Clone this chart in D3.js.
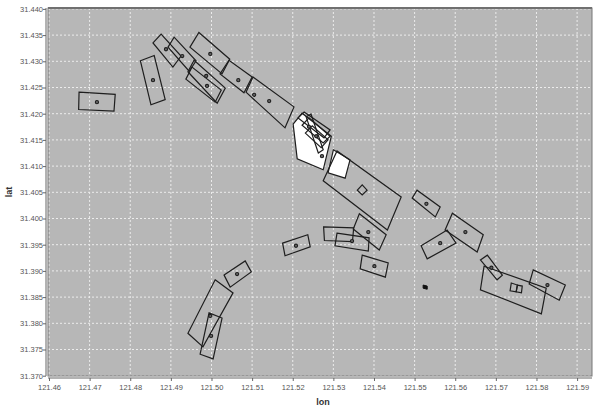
<!DOCTYPE html>
<meta charset="utf-8">
<script src="https://d3js.org/d3.v7.min.js"></script>
<style type="text/css">

body { margin: 0; background: #fff; }

.axis text {
    font-family: "Liberation Sans", Arial, sans-serif;
    font-size: 7.5px;
    fill: #555;
}
.axis line, .axis path {
    stroke: #666;
}
.grid line {
    stroke: #ececec;
    stroke-width: 1px;
    stroke-dasharray: 2px 2px;
}
.shape {
    fill: none;
    stroke: #1e1e1e;
    stroke-width: 1.2px;
}
.whiteShape {
    fill: #fff;
    stroke: #1e1e1e;
    stroke-width: 1.2px;
}
.dot {
    fill: #666;
    stroke: #1e1e1e;
    stroke-width: 1.1px;
}
.axisTitle {
    font-family: "Liberation Sans", Arial, sans-serif;
    font-size: 9px;
    font-weight: bold;
    fill: #333;
}

</style>
<body>
<div id="chart"></div>
</body>
<script>

var lonTicks = [121.46, 121.47, 121.48, 121.49, 121.50, 121.51, 121.52, 121.53, 121.54, 121.55, 121.56, 121.57, 121.58, 121.59];
var latTicks = [31.370, 31.375, 31.380, 31.385, 31.390, 31.395, 31.400, 31.405, 31.410, 31.415, 31.420, 31.425, 31.430, 31.435, 31.440];

// white filled footprints (drawn under the outlines)
var whiteShapes = [
    [[121.5201,31.4180],[121.5223,31.4201],[121.5295,31.4157],[121.5275,31.4093],[121.5211,31.4114]],
    [[121.5300,31.4131],[121.5341,31.4112],[121.5329,31.4077],[121.5287,31.4087]]
];

// outlined footprints, corners as [lon, lat]
var outlineShapes = [
    [[121.4674,31.4241],[121.4763,31.4237],[121.4760,31.4205],[121.4673,31.4208]],
    [[121.4825,31.4301],[121.4859,31.4311],[121.4886,31.4227],[121.4851,31.4217]],
    [[121.4856,31.4335],[121.4876,31.4352],[121.4925,31.4310],[121.4905,31.4289]],
    [[121.4893,31.4327],[121.4908,31.4346],[121.4962,31.4301],[121.4945,31.4281]],
    [[121.4947,31.4327],[121.4969,31.4355],[121.5045,31.4304],[121.5026,31.4276]],
    [[121.4942,31.4280],[121.4957,31.4302],[121.5034,31.4249],[121.5014,31.4220]],
    [[121.4937,31.4266],[121.4952,31.4289],[121.5024,31.4245],[121.5009,31.4222]],
    [[121.5021,31.4276],[121.5043,31.4302],[121.5100,31.4270],[121.5080,31.4240]],
    [[121.5085,31.4241],[121.5102,31.4270],[121.5203,31.4213],[121.5181,31.4173]],
    [[121.5213,31.4192],[121.5228,31.4203],[121.5292,31.4169],[121.5277,31.4154]],
    [[121.5223,31.4178],[121.5240,31.4192],[121.5292,31.4157],[121.5275,31.4144]],
    [[121.5231,31.4163],[121.5248,31.4177],[121.5287,31.4150],[121.5270,31.4135]],
    [[121.5233,31.4194],[121.5245,31.4199],[121.5275,31.4131],[121.5263,31.4125]],
    [[121.5275,31.4072],[121.5309,31.4129],[121.5467,31.4041],[121.5433,31.3978]],
    [[121.5359,31.4054],[121.5371,31.4064],[121.5383,31.4054],[121.5371,31.4045]],
    [[121.5175,31.3953],[121.5237,31.3969],[121.5243,31.3946],[121.5181,31.3929]],
    [[121.5276,31.3984],[121.5350,31.3982],[121.5347,31.3956],[121.5278,31.3958]],
    [[121.5309,31.3972],[121.5388,31.3963],[121.5386,31.3938],[121.5304,31.3948]],
    [[121.5349,31.3980],[121.5364,31.4009],[121.5430,31.3969],[121.5413,31.3940]],
    [[121.5371,31.3930],[121.5435,31.3915],[121.5428,31.3888],[121.5366,31.3904]],
    [[121.5494,31.4039],[121.5506,31.4054],[121.5563,31.4022],[121.5551,31.4003]],
    [[121.5575,31.3978],[121.5593,31.4010],[121.5669,31.3969],[121.5654,31.3936]],
    [[121.5516,31.3948],[121.5580,31.3978],[121.5602,31.3953],[121.5531,31.3923]],
    [[121.5662,31.3921],[121.5679,31.3930],[121.5716,31.3892],[121.5703,31.3883]],
    [[121.5671,31.3909],[121.5662,31.3864],[121.5812,31.3818],[121.5824,31.3867]],
    [[121.5738,31.3877],[121.5753,31.3873],[121.5750,31.3860],[121.5735,31.3862]],
    [[121.5753,31.3873],[121.5765,31.3871],[121.5763,31.3858],[121.5750,31.3860]],
    [[121.5792,31.3902],[121.5782,31.3875],[121.5856,31.3844],[121.5871,31.3873]],
    [[121.5031,31.3892],[121.5083,31.3919],[121.5098,31.3898],[121.5046,31.3869]],
    [[121.5009,31.3883],[121.5053,31.3858],[121.4979,31.3755],[121.4942,31.3781]],
    [[121.4994,31.3820],[121.5026,31.3810],[121.5004,31.3732],[121.4972,31.3741]]
];

// tiny solid footprint
var blobShapes = [
    [[121.5521,31.3873],[121.5531,31.3871],[121.5531,31.3865],[121.5521,31.3867]]
];

// centre markers
var centerDots = [
    [121.4718,31.4222], [121.4856,31.4264], [121.4888,31.4323], [121.4928,31.4310],
    [121.4997,31.4314], [121.4987,31.4272], [121.4989,31.4253], [121.5066,31.4264],
    [121.5105,31.4236], [121.5142,31.4224], [121.5240,31.4175], [121.5258,31.4157],
    [121.5272,31.4119], [121.5208,31.3948], [121.5346,31.3957], [121.5386,31.3974],
    [121.5401,31.3909], [121.5529,31.4028], [121.5625,31.3974], [121.5563,31.3953],
    [121.5689,31.3906], [121.5827,31.3873], [121.5063,31.3894], [121.4997,31.3814],
    [121.4999,31.3776]
];

var width = 593, height = 409;
var plot = {left: 48, right: 592, top: 8, bottom: 376};

var svg = d3.select("#chart").append("svg")
    .attr("width", width)
    .attr("height", height);

var xScale = d3.scaleLinear()
    .domain([121.46, 121.59])
    .range([49, 577.1]);

var yScale = d3.scaleLinear()
    .domain([31.370, 31.440])
    .range([375.7, 8.9]);

svg.append("defs").append("clipPath")
    .attr("id", "plotClip")
    .append("rect")
    .attr("x", plot.left)
    .attr("y", plot.top)
    .attr("width", plot.right - plot.left)
    .attr("height", plot.bottom - plot.top);

svg.append("rect")
    .attr("x", plot.left)
    .attr("y", plot.top)
    .attr("width", plot.right - plot.left)
    .attr("height", plot.bottom - plot.top)
    .style("fill", "#b7b7b7");

// grid
var grid = svg.append("g").attr("class", "grid");
grid.selectAll(".vgrid")
    .data(lonTicks)
    .enter().append("line")
    .attr("x1", function(d) { return xScale(d); })
    .attr("x2", function(d) { return xScale(d); })
    .attr("y1", plot.top)
    .attr("y2", plot.bottom);
grid.selectAll(".hgrid")
    .data(latTicks)
    .enter().append("line")
    .attr("x1", plot.left)
    .attr("x2", plot.right)
    .attr("y1", function(d) { return yScale(d); })
    .attr("y2", function(d) { return yScale(d); });

var line = d3.line()
    .x(function(d) { return xScale(d[0]); })
    .y(function(d) { return yScale(d[1]); })
    .curve(d3.curveLinearClosed);

var shapes = svg.append("g").attr("clip-path", "url(#plotClip)");

shapes.selectAll(".whiteShape")
    .data(whiteShapes)
    .enter().append("path")
    .attr("class", "whiteShape")
    .attr("d", line);

shapes.selectAll(".shape")
    .data(outlineShapes)
    .enter().append("path")
    .attr("class", "shape")
    .attr("d", line);

shapes.selectAll(".blob")
    .data(blobShapes)
    .enter().append("path")
    .attr("d", line)
    .style("fill", "#111")
    .style("stroke", "#111");

shapes.selectAll(".dot")
    .data(centerDots)
    .enter().append("circle")
    .attr("class", "dot")
    .attr("cx", function(d) { return xScale(d[0]); })
    .attr("cy", function(d) { return yScale(d[1]); })
    .attr("r", 1.6);

// plot border
svg.append("line")
    .attr("x1", plot.left).attr("x2", plot.right)
    .attr("y1", plot.top).attr("y2", plot.top)
    .style("stroke", "#6a6a6a").style("stroke-width", 2);
svg.append("rect")
    .attr("x", plot.left)
    .attr("y", plot.top)
    .attr("width", plot.right - plot.left)
    .attr("height", plot.bottom - plot.top)
    .style("fill", "none")
    .style("stroke", "#777");

// axes
var xAxis = d3.axisBottom(xScale)
    .tickValues(lonTicks)
    .tickFormat(d3.format(".2f"))
    .tickSize(3)
    .tickSizeOuter(0);

var yAxis = d3.axisLeft(yScale)
    .tickValues(latTicks)
    .tickFormat(d3.format(".3f"))
    .tickSize(3)
    .tickSizeOuter(0);

var xAxisGroup = svg.append("g")
    .attr("class", "x axis")
    .attr("transform", "translate(0," + (plot.bottom + 2) + ")")
    .call(xAxis);
xAxisGroup.select(".domain")
    .attr("d", "M" + plot.left + ",0H" + plot.right);
xAxisGroup.selectAll("text").attr("dy", "0.9em").attr("y", 5);

var yAxisGroup = svg.append("g")
    .attr("class", "y axis")
    .attr("transform", "translate(" + (plot.left - 2) + ",0)")
    .call(yAxis);
yAxisGroup.select(".domain")
    .attr("d", "M0," + plot.top + "V" + plot.bottom);
yAxisGroup.selectAll("text").attr("x", -3);

svg.append("text")
    .attr("class", "axisTitle")
    .attr("x", 323)
    .attr("y", 405)
    .attr("text-anchor", "middle")
    .text("lon");

svg.append("text")
    .attr("class", "axisTitle")
    .attr("transform", "translate(12,192) rotate(-90)")
    .attr("text-anchor", "middle")
    .text("lat");

</script>
